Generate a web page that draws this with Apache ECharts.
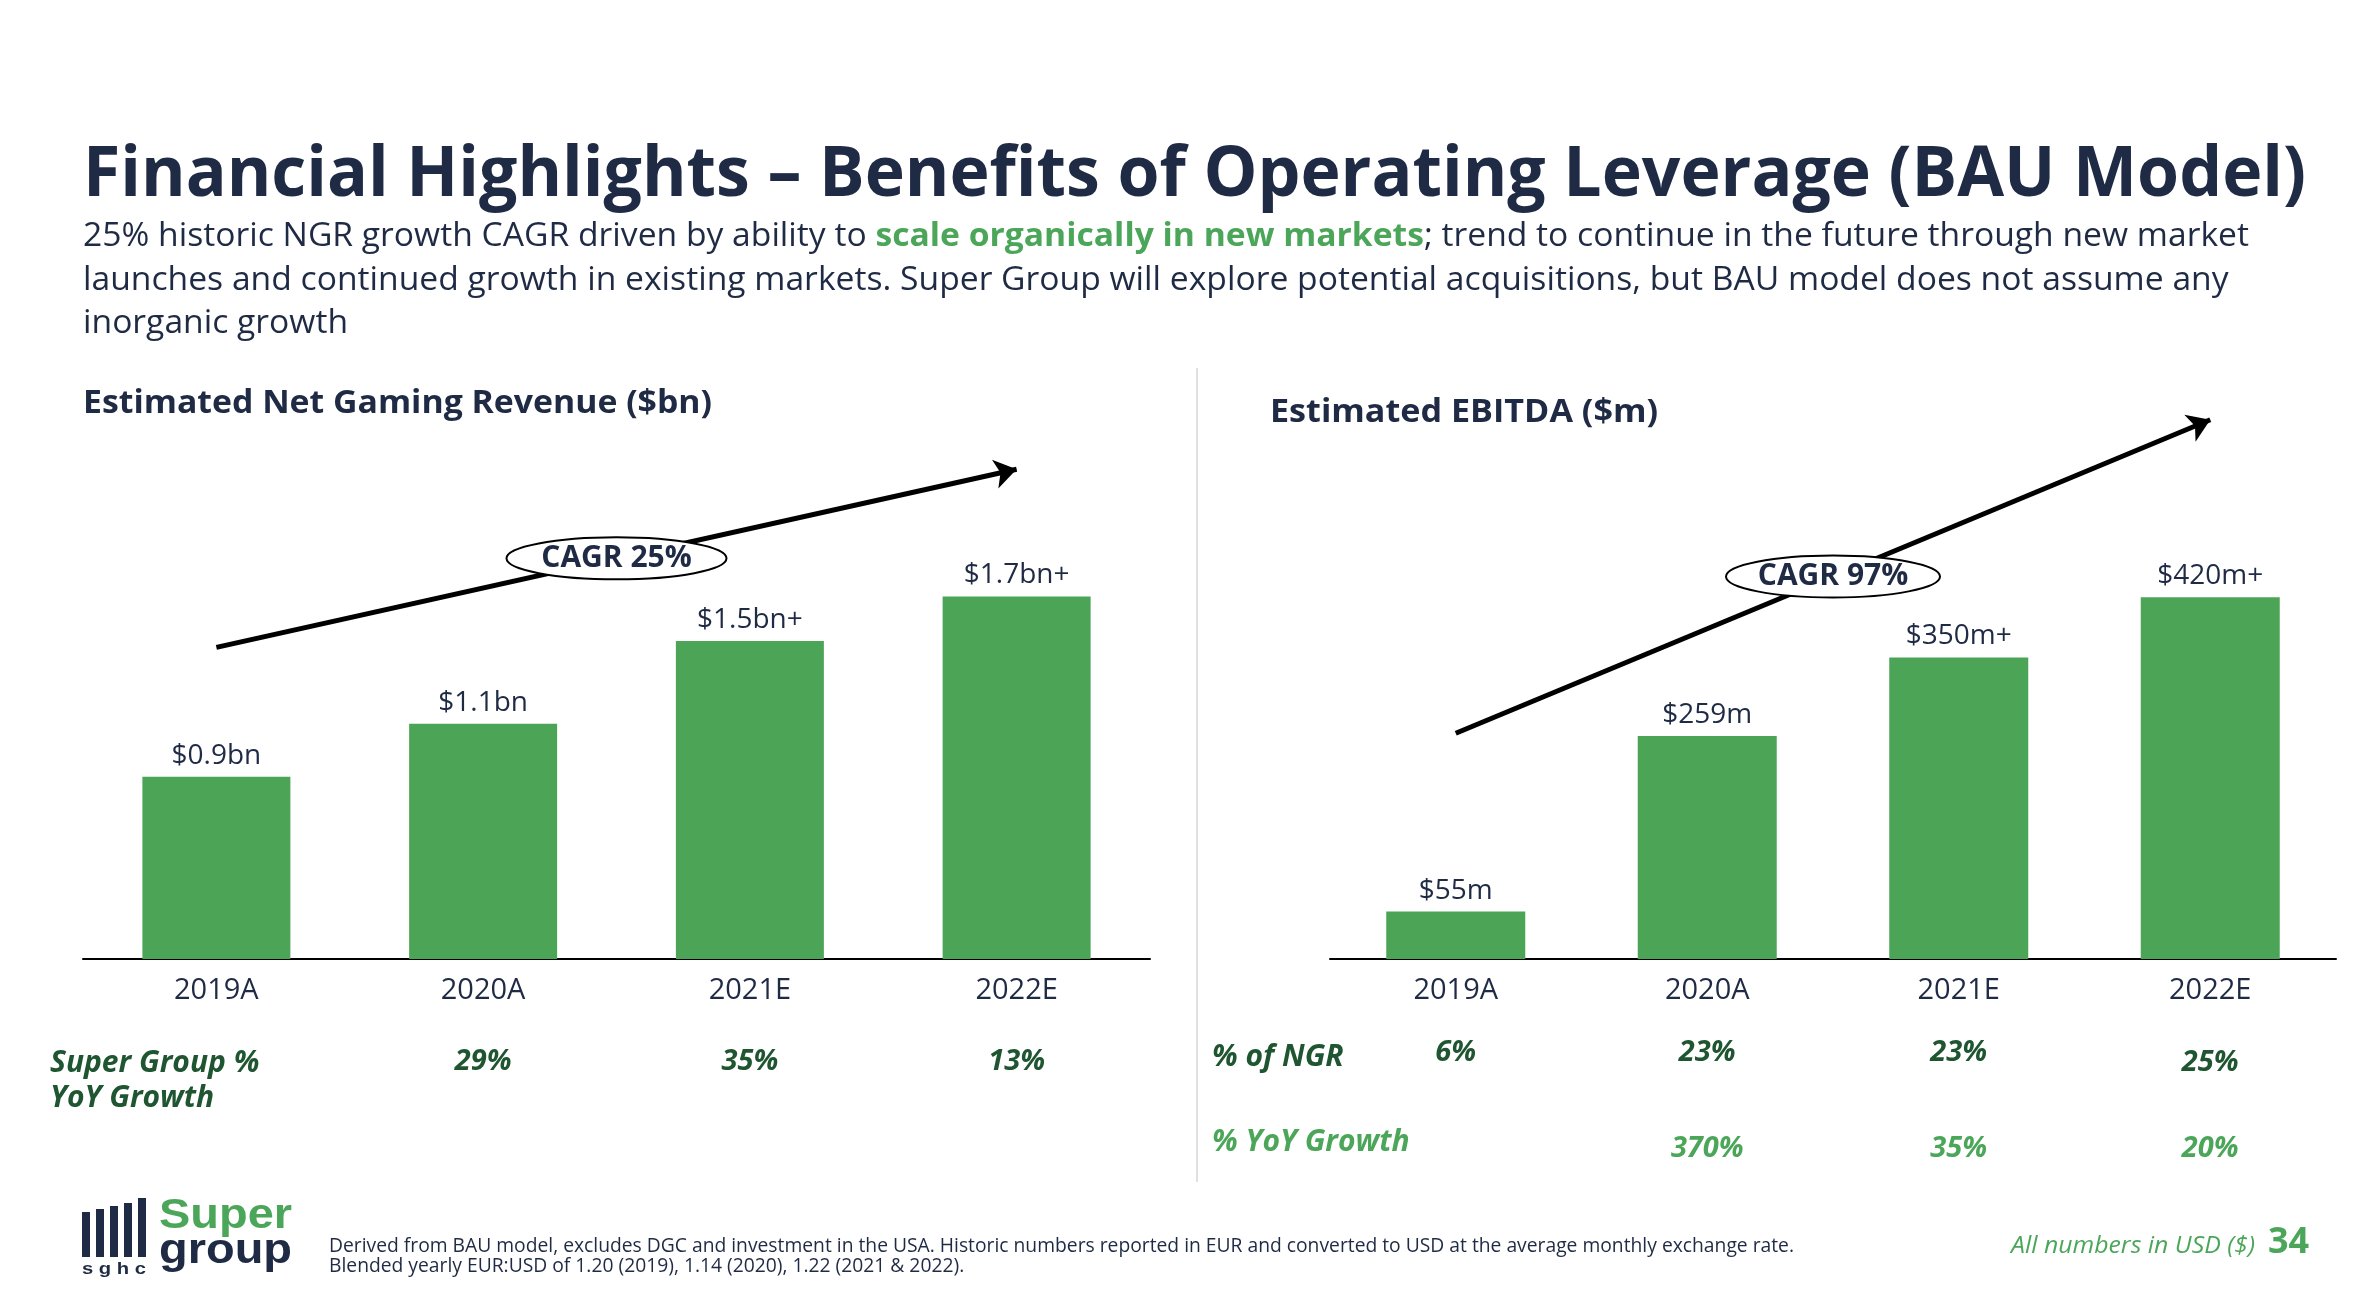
<!DOCTYPE html>
<html><head><meta charset="utf-8">
<script src="https://cdn.jsdelivr.net/npm/echarts/dist/echarts.min.js"></script>
<style>html,body{margin:0;padding:0;background:#fff}#c{width:2376px;height:1304px}</style>
</head><body><div id="c"></div>
<script>
// ---- data ----
const categories = ['2019A', '2020A', '2021E', '2022E'];
const ngrValues = [0.86, 1.11, 1.50, 1.71];
const ngrLabels = ['$0.9bn', '$1.1bn', '$1.5bn+', '$1.7bn+'];
const ngrGrowth = ['', '29%', '35%', '13%'];
const ngrCagr = 'CAGR 25%';
const ngrArrow = [1.47, 2.31];
const ebitdaValues = [55, 259, 350, 420];
const ebitdaLabels = ['$55m', '$259m', '$350m+', '$420m+'];
const ebitdaPctNgr = ['6%', '23%', '23%', '25%'];
const ebitdaGrowth = ['', '370%', '35%', '20%'];
const ebitdaCagr = 'CAGR 97%';
const ebitdaArrow = [262, 626];

// ---- style ----
const NAVY = '#1F2A44', GREEN = '#4CA557', DKGREEN = '#1F5631', LTGREEN = '#4CA65A';
const FF = '"Open Sans", sans-serif';
const ctx = document.createElement('canvas').getContext('2d');
function tw(t, font) { ctx.font = font; return ctx.measureText(t).width; }

const titleText = 'Financial Highlights \u2013 Benefits of Operating Leverage (BAU Model)';
const titleFont = 'bold 70px "Open Sans"';
const sub1a = '25% historic NGR growth CAGR driven by ability to ';
const sub1b = 'scale organically in new markets';
const sub1c = '; trend to continue in the future through new market';
const sub2 = 'launches and continued growth in existing markets. Super Group will explore potential acquisitions, but BAU model does not assume any';
const sub3 = 'inorganic growth';
const subFont = '33px "Open Sans"', subBold = 'bold 33px "Open Sans"';
const subScale = 2166 / (tw(sub1a, subFont) + tw(sub1b, subBold) + tw(sub1c, subFont));
const sec1 = 'Estimated Net Gaming Revenue ($bn)', sec2 = 'Estimated EBITDA ($m)';
const secFont = 'bold 32px "Open Sans"';
const foot1 = 'Derived from BAU model, excludes DGC and investment in the USA. Historic numbers reported in EUR and converted to USD at the average monthly exchange rate.';
const foot2 = 'Blended yearly EUR:USD of 1.20 (2019), 1.14 (2020), 1.22 (2021 & 2022).';
const footFont = '20px "Open Sans"';
const footScale = 1465 / tw(foot1, footFont);
const rowFont = 'italic bold 30px "Open Sans"';

function txt(text, x, y, font, fill, scaleX, extra) {
  return Object.assign({ type: 'text', x: x, y: y, scaleX: scaleX || 1, z: 50,
    style: { text: text, font: font, fill: fill, align: 'left', verticalAlign: 'middle' } }, extra || {});
}

const staticGraphics = [
  txt(titleText, 83, 176, titleFont, NAVY, 2223 / tw(titleText, titleFont)),
  { type: 'text', x: 83, y: 237, scaleX: subScale, z: 50, style: {
      text: '{n|' + sub1a + '}{g|' + sub1b + '}{n|' + sub1c + '}', verticalAlign: 'middle', align: 'left',
      rich: { n: { font: subFont, fill: NAVY }, g: { font: subBold, fill: LTGREEN } } } },
  txt(sub2, 83, 281, subFont, NAVY, subScale),
  txt(sub3, 83, 324, subFont, NAVY, subScale),
  txt(sec1, 83, 404, secFont, NAVY, 629 / tw(sec1, secFont)),
  txt(sec2, 1270, 413, secFont, NAVY, 388 / tw(sec2, secFont)),
  { type: 'line', shape: { x1: 1197, y1: 368, x2: 1197, y2: 1182 }, style: { stroke: '#D6D6D6', lineWidth: 1.5 } },
  txt('Super Group %', 50, 1063, rowFont, DKGREEN, 1),
  txt('YoY Growth', 50, 1098, rowFont, DKGREEN, 1),
  txt('% of NGR', 1212, 1057, rowFont, DKGREEN, 1),
  txt('% YoY Growth', 1212, 1142, rowFont, LTGREEN, 1),
  // logo
  { type: 'rect', shape: { x: 82, y: 1212, width: 8, height: 45 }, style: { fill: NAVY } },
  { type: 'rect', shape: { x: 96, y: 1209, width: 8, height: 48 }, style: { fill: NAVY } },
  { type: 'rect', shape: { x: 110, y: 1206, width: 8, height: 51 }, style: { fill: NAVY } },
  { type: 'rect', shape: { x: 124, y: 1203, width: 8, height: 54 }, style: { fill: NAVY } },
  { type: 'rect', shape: { x: 138, y: 1198, width: 8, height: 59 }, style: { fill: NAVY } },
  txt('s g h c', 82, 1269, 'bold 17px "Liberation Sans"', NAVY, 64 / tw('s g h c', 'bold 17px "Liberation Sans"')),
  txt('Super', 159, 1216, 'bold 42px "Liberation Sans"', LTGREEN, 133 / tw('Super', 'bold 42px "Liberation Sans"')),
  txt('group', 159, 1251, 'bold 42px "Liberation Sans"', NAVY, 133 / tw('group', 'bold 42px "Liberation Sans"')),
  txt(foot1, 329, 1246, footFont, NAVY, footScale),
  txt(foot2, 329, 1266, footFont, NAVY, footScale),
  txt('All numbers in USD ($)', 2011, 1246, 'italic 23px "Open Sans"', LTGREEN, 244 / tw('All numbers in USD ($)', 'italic 23px "Open Sans"')),
  txt('34', 2268, 1243, 'bold 36px "Open Sans"', LTGREEN, 1)
];

const baseAxis = {
  type: 'category', data: categories, position: 'bottom',
  axisTick: { show: false }, splitLine: { show: false }
};
function catAxis(gridIndex, extra) { return Object.assign({}, baseAxis, { gridIndex: gridIndex }, extra); }
const mainLabel = { color: NAVY, fontSize: 29, fontFamily: FF, margin: 17, interval: 0 };
function rowLabel(arr, color, lowIdx) {
  const base = { color: color, fontSize: 29, fontFamily: FF, fontWeight: 'bold', fontStyle: 'italic' };
  return Object.assign({ interval: 0, margin: 0,
    formatter: (v, i) => (i === lowIdx ? '{d|' + arr[i] + '}' : arr[i]),
    rich: { d: Object.assign({ lineHeight: 50 }, base) } }, base);
}

function barSeries(ax, values, labels, barWidth, arrow) {
  return {
    type: 'bar', xAxisIndex: ax, yAxisIndex: ax, data: values, barWidth: barWidth,
    itemStyle: { color: GREEN },
    label: { show: true, position: 'top', distance: 7, color: NAVY, fontSize: 28, fontFamily: FF,
      formatter: p => labels[p.dataIndex] },
    markLine: {
      silent: true, symbol: ['none', 'arrow'], symbolSize: 22,
      itemStyle: { color: '#000' },
      lineStyle: { color: '#000', width: 5, type: 'solid' }, label: { show: false },
      data: [[{ coord: [categories[0], arrow[0]] }, { coord: [categories[3], arrow[1]] }]]
    }
  };
}

const chart = echarts.init(document.getElementById('c'));
chart.setOption({
  animation: false,
  backgroundColor: '#fff',
  grid: [
    { left: 83, width: 1067, top: 429, height: 530 },
    { left: 1330, width: 1006, top: 356, height: 603 }
  ],
  xAxis: [
    catAxis(0, { axisLine: { lineStyle: { color: '#000', width: 2 } }, axisLabel: mainLabel }),
    catAxis(1, { axisLine: { lineStyle: { color: '#000', width: 2 } }, axisLabel: mainLabel }),
    catAxis(0, { offset: 88, axisLine: { show: false }, axisLabel: rowLabel(ngrGrowth, DKGREEN, -1) }),
    catAxis(1, { offset: 79, axisLine: { show: false }, axisLabel: rowLabel(ebitdaPctNgr, DKGREEN, 3) }),
    catAxis(1, { offset: 175, axisLine: { show: false }, axisLabel: rowLabel(ebitdaGrowth, LTGREEN, -1) })
  ],
  yAxis: [
    { type: 'value', gridIndex: 0, min: 0, max: 2.5, show: false },
    { type: 'value', gridIndex: 1, min: 0, max: 700, show: false }
  ],
  series: [
    barSeries(0, ngrValues, ngrLabels, 148, ngrArrow),
    barSeries(1, ebitdaValues, ebitdaLabels, 139, ebitdaArrow)
  ],
  graphic: { elements: staticGraphics }
});

function cagrBadge(gi, arrow, text, rx) {
  const a = chart.convertToPixel({ xAxisIndex: gi, yAxisIndex: gi }, [categories[0], arrow[0]]);
  const b = chart.convertToPixel({ xAxisIndex: gi, yAxisIndex: gi }, [categories[3], arrow[1]]);
  const cx = (a[0] + b[0]) / 2, cy = (a[1] + b[1]) / 2;
  return [
    { type: 'ellipse', z: 100, shape: { cx: cx, cy: cy, rx: rx, ry: 21 }, style: { fill: '#fff', stroke: '#000', lineWidth: 2 } },
    { type: 'text', z: 101, x: cx, y: cy, style: { text: text, font: 'bold 30px "Open Sans"', fill: NAVY, align: 'center', verticalAlign: 'middle' } }
  ];
}
chart.setOption({ graphic: { elements: staticGraphics.concat(cagrBadge(0, ngrArrow, ngrCagr, 110), cagrBadge(1, ebitdaArrow, ebitdaCagr, 107)) } });
</script>
</body></html>
